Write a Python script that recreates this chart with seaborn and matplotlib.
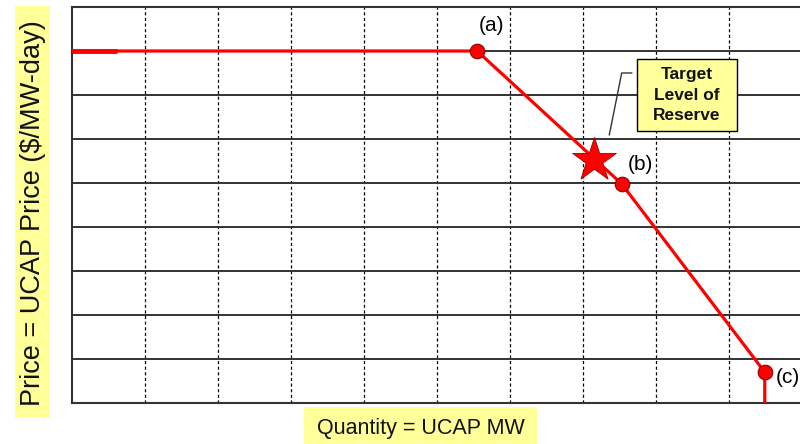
import matplotlib
matplotlib.use("Agg")
import matplotlib.pyplot as plt
import seaborn as sns
import pandas as pd
from matplotlib.patches import Rectangle

# demand curve (grid units: 10 columns x 9 rows)
curve_x = [0, 5.55, 7.53, 9.49, 9.49]
curve_y = [8, 8, 4.98, 0.70, 0]
pt_labels = ["(a)", "(b)", "(c)"]
pt_x = [5.55, 7.53, 9.49]
pt_y = [8, 4.98, 0.70]
target_x = [7.15]
target_y = [5.52]
note_text = "Target\nLevel of\nReserve"
xlabel = "Quantity = UCAP MW"
ylabel = "Price = UCAP Price ($/MW-day)"

sns.set_style("white")
plt.rcParams["font.family"] = ["Liberation Sans", "DejaVu Sans"]

fig = plt.figure(figsize=(8, 4.44), dpi=100)
ax = fig.add_axes([72 / 800, 41 / 444, 730 / 800, 396 / 444])

curve = pd.DataFrame({"x": curve_x, "y": curve_y})
pts = pd.DataFrame({"x": pt_x, "y": pt_y, "lab": pt_labels})

ax.set_xlim(0, 10)
ax.set_ylim(0, 9)
for v in range(1, 10):
    ax.axvline(v, color="black", lw=0.9, ls=(0, (2.5, 2)), zorder=1)
for h in range(1, 9):
    ax.axhline(h, color="#333333", lw=1.4, zorder=1)
for s in ["left", "bottom", "top"]:
    ax.spines[s].set_color("#333333")
    ax.spines[s].set_linewidth(1.5)
ax.spines["right"].set_visible(False)
ax.set_xticks([])
ax.set_yticks([])

sns.lineplot(data=curve, x="x", y="y", sort=False, estimator=None, color="#ff0000",
             lw=2.3, ax=ax, zorder=3)
ax.plot([0, 0.62], [8, 8], color="#ff0000", lw=3.5, solid_capstyle="butt", zorder=3)
sns.scatterplot(data=pts, x="x", y="y", s=110, color="#ff0000", edgecolor="#8b0000",
                linewidth=0.8, ax=ax, zorder=4, legend=False)
sns.scatterplot(x=target_x, y=target_y, marker="*", s=1100, color="#ff0000",
                edgecolor="#a00000", linewidth=0.6, ax=ax, zorder=4, legend=False)

offsets = [(0.19, 0.58), (0.25, 0.44), (0.32, -0.12)]
for (dx, dy), x, y, t in zip(offsets, pt_x, pt_y, pt_labels):
    ax.text(x + dx, y + dy, t, fontsize=15, ha="center", va="center", color="black", zorder=5)

# callout box
ax.add_patch(Rectangle((7.74, 6.18), 1.37, 1.64, facecolor="#ffff99", edgecolor="black",
                       lw=1, zorder=5))
ax.text(8.425, 7.0, note_text, ha="center", va="center", fontsize=12.5,
        weight="bold", linespacing=1.45, color="#111111", zorder=6)
ax.plot([7.67, 7.53, 7.36], [7.50, 7.50, 6.09], color="#333333", lw=1, zorder=5)

ax.set_xlabel("")
ax.set_ylabel("")

# axis titles in yellow boxes
fig.patches.append(Rectangle((15 / 800, 26 / 444), 35 / 800, 412 / 444, transform=fig.transFigure,
                             facecolor="#ffff99", edgecolor="none"))
fig.text(33 / 800, 231 / 444, ylabel, rotation=90, ha="center", va="center", fontsize=19.5, color="#111111")
fig.patches.append(Rectangle((304 / 800, 0), 233 / 800, 37 / 444, transform=fig.transFigure,
                             facecolor="#ffff99", edgecolor="none"))
fig.text(421 / 800, 16 / 444, xlabel, ha="center", va="center", fontsize=15.5, color="#111111")

fig.savefig("out.png", dpi=100)
